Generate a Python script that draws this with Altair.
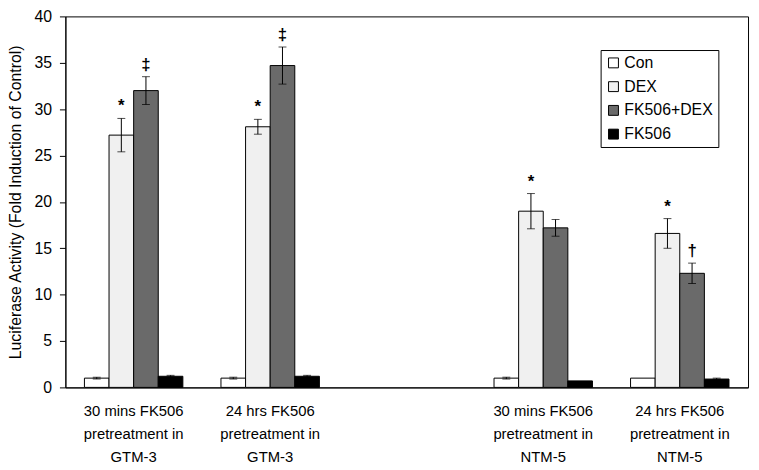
import altair as alt
import pandas as pd

groups = [
    "30 mins FK506|pretreatment in|GTM-3",
    "24 hrs FK506|pretreatment in|GTM-3",
    " ",
    "30 mins FK506|pretreatment in|NTM-5",
    "24 hrs FK506|pretreatment in|NTM-5",
]
data_groups = [groups[0], groups[1], groups[3], groups[4]]
series = ["Con", "DEX", "FK506+DEX", "FK506"]

con = [1.0, 1.0, 1.0, 1.0]
con_err = [0.1, 0.1, 0.1, 0.0]
dex = [27.2, 28.1, 19.0, 16.6]
dex_err = [1.8, 0.8, 1.9, 1.6]
fkdex = [32.0, 34.7, 17.2, 12.3]
fkdex_err = [1.5, 2.0, 0.9, 1.1]
fk = [1.2, 1.2, 0.7, 0.9]
fk_err = [0.1, 0.1, 0.0, 0.1]

dex_sig = ["*", "*", "*", "*"]
fkdex_sig = ["\u2021", "\u2021", "", "\u2020"]

vals = [con, dex, fkdex, fk]
errs = [con_err, dex_err, fkdex_err, fk_err]
sigs = [["", "", "", ""], dex_sig, fkdex_sig, ["", "", "", ""]]

rows = []
for s, v, e, g in zip(series, vals, errs, sigs):
    for grp, vv, ee, gg in zip(data_groups, v, e, g):
        rows.append({"group": grp, "series": s, "value": vv, "err": ee,
                     "lo": vv - ee, "hi": vv + ee, "sig": gg})
df = pd.DataFrame(rows)

FONT = "Liberation Sans"

x = alt.X("group:N", sort=groups,
          scale=alt.Scale(domain=groups, paddingInner=0.279, paddingOuter=0.1395),
          axis=alt.Axis(title=None, labelExpr="split(datum.label, '|')",
                        labelAngle=0, ticks=False, tickSize=0, labelPadding=16,
                        labelFont=FONT, labelFontSize=15,
                        labelLineHeight=23.5, labelColor="black",
                        domainColor="black", labelAlign="center"))
xo = alt.XOffset("series:N", sort=series,
                 scale=alt.Scale(domain=series, paddingInner=0, paddingOuter=0))
yscale = alt.Scale(domain=[0, 40], nice=False)

bars = alt.Chart(df).mark_bar(stroke="black", strokeWidth=1).encode(
    x=x, xOffset=xo,
    y=alt.Y("value:Q", scale=yscale,
            axis=alt.Axis(title="Luciferase Activity (Fold Induction of Control)",
                          values=[0, 5, 10, 15, 20, 25, 30, 35, 40], grid=False,
                          tickSize=6, tickColor="black", domainColor="black",
                          labelFont=FONT, labelFontSize=16, labelColor="black",
                          labelPadding=8, titleFont=FONT, titleFontSize=16,
                          titleFontWeight="normal", titleColor="black",
                          titlePadding=11)),
    color=alt.Color("series:N", sort=series,
                    scale=alt.Scale(domain=series,
                                    range=["#ffffff", "#f0f0f0", "#6a6a6a", "#000000"]),
                    legend=alt.Legend(title=None, orient="none", legendX=541, legendY=34,
                                      symbolType="square", symbolSize=100,
                                      symbolStrokeColor="black", symbolStrokeWidth=1,
                                      labelFont=FONT, labelFontSize=16, labelColor="black",
                                      rowPadding=8, padding=5, strokeColor="black",
                                      fillColor="white", labelOffset=3)),
)

errdf = alt.Chart(df).transform_filter("datum.err > 0")
rules = errdf.mark_rule(color="black", strokeWidth=1).encode(
    x=x, xOffset=xo, y=alt.Y("lo:Q", scale=yscale), y2="hi:Q")
cap_hi = errdf.mark_tick(color="black", size=8, thickness=1, orient="horizontal").encode(
    x=x, xOffset=xo, y=alt.Y("hi:Q", scale=yscale))
cap_lo = errdf.mark_tick(color="black", size=8, thickness=1, orient="horizontal").encode(
    x=x, xOffset=xo, y=alt.Y("lo:Q", scale=yscale))

text = alt.Chart(df).transform_filter("datum.sig != ''").mark_text(
    font=FONT, fontSize=17, fontWeight="bold", baseline="bottom", dy=-3, color="black"
).encode(x=x, xOffset=xo, y=alt.Y("hi:Q", scale=yscale), text="sig:N")

chart = alt.layer(bars, rules, cap_hi, cap_lo, text).properties(
    width=690, height=375,
    autosize=alt.AutoSizeParams(type="none"),
    padding={"left": 58, "top": 6, "right": 3, "bottom": 81},
    background="white",
).configure_view(stroke="black", strokeWidth=1)

chart.save("out.html", embed_options={"renderer": "svg", "actions": False})
